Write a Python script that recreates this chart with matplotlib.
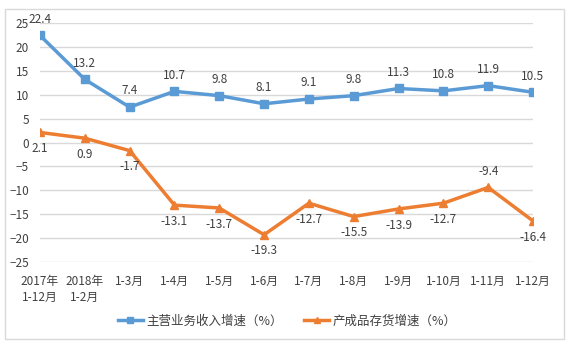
import matplotlib
matplotlib.use("Agg")
import matplotlib.pyplot as plt
from matplotlib.patches import Rectangle

plt.rcParams['font.family'] = ['Noto Sans CJK SC', 'DejaVu Sans']

months = ['2017年\n1-12月', '2018年\n1-2月', '1-3月', '1-4月', '1-5月', '1-6月',
          '1-7月', '1-8月', '1-9月', '1-10月', '1-11月', '1-12月']
revenue = [22.4, 13.2, 7.4, 10.7, 9.8, 8.1, 9.1, 9.8, 11.3, 10.8, 11.9, 10.5]
inventory = [2.1, 0.9, -1.7, -13.1, -13.7, -19.3, -12.7, -15.5, -13.9, -12.7, -9.4, -16.4]
inv_above = [False] * 10 + [True, False]

blue = '#5B9BD5'
orange = '#ED7D31'
txt = '#404040'

fig = plt.figure(figsize=(5.69, 3.45), dpi=100)
fig.patches.append(Rectangle((5 / 569, 1 - 339 / 345), 559 / 569, 330 / 345,
                             transform=fig.transFigure, fill=False,
                             edgecolor='#D9D9D9', linewidth=1))
ax = fig.add_axes([40 / 569, 1 - 262 / 345, 493 / 569, 239 / 345])

x = list(range(len(months)))
ax.plot(x, revenue, color=blue, linewidth=2.5, marker='s', markersize=6,
        label='主营业务收入增速（%）')
ax.plot(x, inventory, color=orange, linewidth=2.5, marker='^', markersize=6,
        label='产成品存货增速（%）')

for i, v in enumerate(revenue):
    ax.annotate(f'{v}', (i, v), xytext=(0, 7), textcoords='offset points',
                ha='center', va='bottom', fontsize=8.5, color=txt)
for i, v in enumerate(inventory):
    off = 7 if inv_above[i] else -7
    ax.annotate(f'{v}', (i, v), xytext=(0, off), textcoords='offset points',
                ha='center', va='bottom' if inv_above[i] else 'top',
                fontsize=8.5, color=txt)

ax.set_xlim(0, len(months) - 1)
ax.set_ylim(-25, 25)
ax.set_yticks(range(-25, 30, 5))
ax.set_xticks(x)
ax.set_xticklabels(months, fontsize=8.5, color=txt, linespacing=1.3)
ax.tick_params(axis='y', labelsize=8.5, labelcolor=txt, length=0, pad=8)
ax.tick_params(axis='x', length=0, pad=9)
ax.grid(axis='y', color='#D9D9D9', linewidth=1)
ax.set_axisbelow(True)
for s in ax.spines.values():
    s.set_visible(False)

fig.legend(loc='center', bbox_to_anchor=(0.505, 1 - 321 / 345), ncol=2,
           frameon=False, fontsize=9, handlelength=2.0, handletextpad=0.3,
           columnspacing=1.7, markerscale=0.8, labelcolor=txt)

fig.savefig('out.png', dpi=100)
